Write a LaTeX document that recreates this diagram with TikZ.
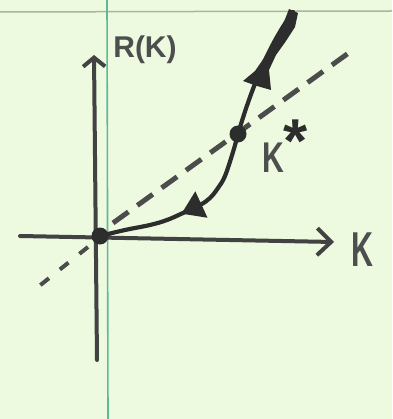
\documentclass[tikz,border=0pt]{standalone}
\usepackage{fontspec}
\setmainfont{Liberation Sans}
\usetikzlibrary{arrows.meta,decorations.markings}
\definecolor{paper}{RGB}{237,250,224}
\definecolor{ink}{RGB}{45,45,45}
\definecolor{txt}{RGB}{78,78,78}
\definecolor{margin}{RGB}{95,185,150}
\definecolor{edge}{RGB}{170,180,160}
\begin{document}
\begin{tikzpicture}[x=1pt,y=-1pt,
  axis/.style={draw=ink!90, line width=4pt, line cap=round},
  curve/.style={draw=ink, line width=4.2pt, line cap=round},
  dashline/.style={draw=ink!85, line width=5pt, dash pattern=on 19pt off 11pt},
  dot/.style={circle, fill=ink, inner sep=0pt, minimum size=17pt},
  lbl/.style={text=txt, inner sep=0pt},
]
\fill[paper] (0,0) rectangle (392,419);
\useasboundingbox (0,0) rectangle (392,419);
% paper edge and margin
\draw[edge, line width=1.5pt] (0,12) -- (392,11);
\draw[margin, line width=1.6pt] (107,0) -- (108,419);
% axes
\coordinate (yb) at (97,360);
\coordinate (yt) at (94,55);
\coordinate (xl) at (20,236);
\coordinate (xr) at (334,242);
\draw[axis, -{Straight Barb[length=9pt,width=22pt]}] (yb) -- (yt);
\draw[axis, -{Straight Barb[length=14pt,width=27pt]}] (xl) -- (xr);
% dashed line
\coordinate (d1) at (113,223);
\coordinate (d2) at (350,52);
\coordinate (d3) at (88,247);
\coordinate (d4) at (38,287);
\draw[dashline] (d1) -- (d2);
\draw[dashline, line width=4pt, dash pattern=on 11pt off 14pt] (d3) -- (d4);
% fixed points
\node[dot] (O) at (100,236) {};
\node[dot] (Ks) at (238,134) {};
\coordinate (T) at (293,12);
% curve
\draw[curve, postaction={decorate},
  decoration={markings, mark=at position 0.45 with {\arrowreversed{Triangle[length=22pt,width=28pt]}}}]
  plot[smooth, tension=0.6] coordinates {(O.center) (125,230) (150,225) (167,220) (183,213) (200,205) (210,198) (218,188) (225,176) (233,152) (Ks.center)};
\draw[curve] (Ks.center) .. controls (248,100) and (265,50) .. (T);
% hand-drawn arrowhead spike on the upper branch
\fill[ink] (289,9) -- (282,27) -- (274,41) -- (264,58) -- (255,71) -- (243,81)
  -- (257,86) -- (271,90) -- (269,70) -- (276,55) -- (286,41) -- (295,27) -- (298,13) -- cycle;
% labels
\node[lbl, font=\bfseries\fontsize{30}{30}\selectfont, anchor=base] (RK) at (145,58) {R(K)};
\node[lbl, font=\bfseries\fontsize{49}{49}\selectfont, xscale=0.62, anchor=base] (Kx) at (362,266) {K};
\node[lbl, font=\bfseries\fontsize{43}{43}\selectfont, xscale=0.7, anchor=base] (Kst) at (273,173) {K};
\node[lbl, text=ink, font=\bfseries\fontsize{62}{62}\selectfont] (ast) at (296,141) {*};
\end{tikzpicture}
\end{document}
